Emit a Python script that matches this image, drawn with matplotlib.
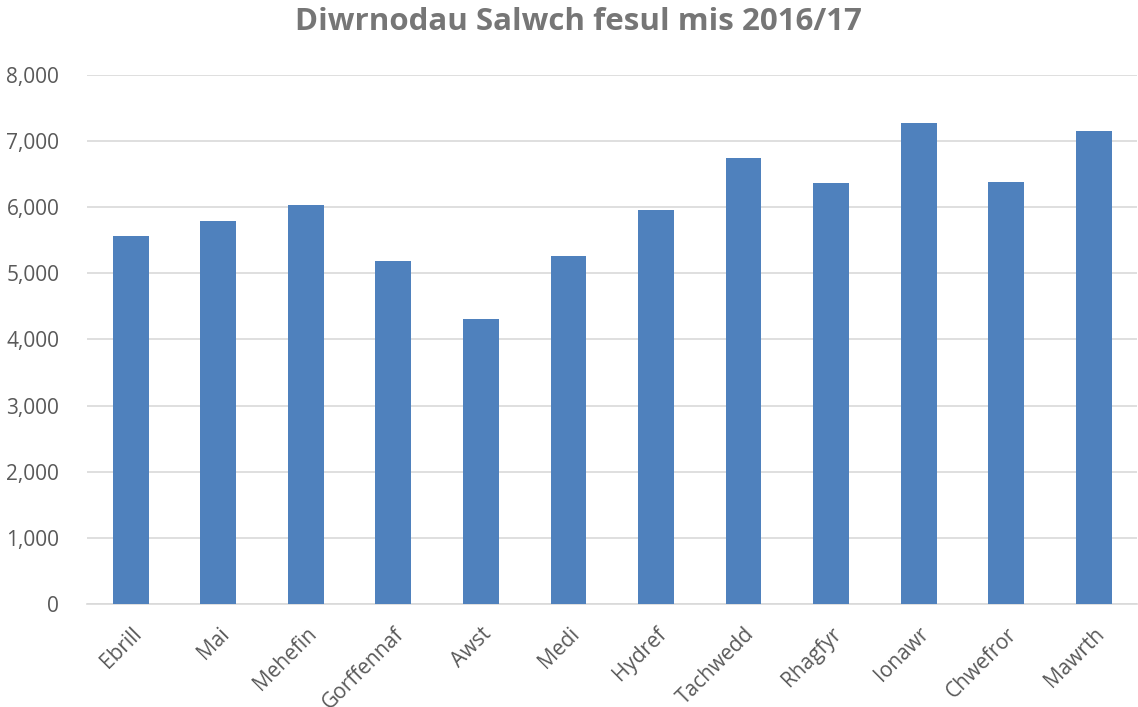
import matplotlib
matplotlib.use("Agg")
import matplotlib.pyplot as plt
from matplotlib.ticker import FuncFormatter

months = ['Ebrill', 'Mai', 'Mehefin', 'Gorffennaf', 'Awst', 'Medi',
          'Hydref', 'Tachwedd', 'Rhagfyr', 'Ionawr', 'Chwefror', 'Mawrth']
sick_days = [5560, 5790, 6040, 5190, 4310, 5265,
             5960, 6750, 6370, 7280, 6385, 7155]

plt.rcParams['font.family'] = ['Open Sans', 'DejaVu Sans']

fig = plt.figure(figsize=(11.38, 7.07), dpi=100)
ax = fig.add_axes([0.0765, 0.1457, 0.923, 0.7483])

ax.bar(range(len(months)), sick_days, width=0.41, color='#4F81BD', zorder=3)

ax.set_xlim(-0.5, len(months) - 0.5)
ax.set_ylim(0, 8000)
ax.set_yticks(range(0, 8001, 1000))
ax.yaxis.set_major_formatter(FuncFormatter(lambda v, p: f'{int(v):,}'))
ax.grid(axis='y', color='#D9D9D9', linewidth=1.2, zorder=0)

ax.set_xticks(range(len(months)))
ax.set_xticklabels(months, rotation=45, ha='right', rotation_mode='anchor')
ax.tick_params(axis='both', length=0, labelsize=15, colors='#595959')
ax.tick_params(axis='y', pad=20)
ax.tick_params(axis='x', pad=14)

for s in ['top', 'right', 'left']:
    ax.spines[s].set_visible(False)
ax.spines['bottom'].set_color('#D9D9D9')
ax.spines['bottom'].set_linewidth(1.2)

fig.suptitle('Diwrnodau Salwch fesul mis 2016/17', y=0.99, x=0.508,
             fontsize=22.5, fontweight='bold', color='#767676')

fig.savefig('out.png', dpi=100)
